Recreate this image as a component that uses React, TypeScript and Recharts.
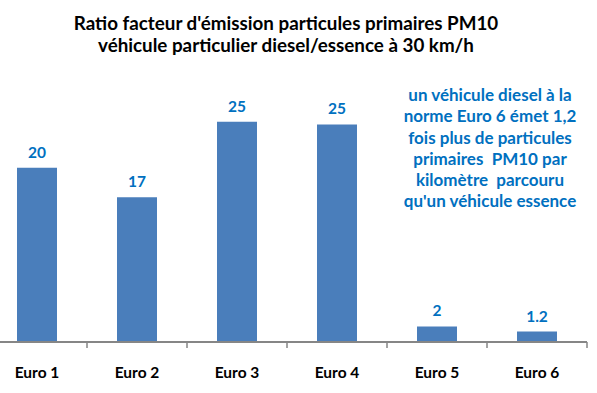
import { BarChart, Bar, XAxis, YAxis, LabelList } from "recharts";

const categories = ["Euro 1", "Euro 2", "Euro 3", "Euro 4", "Euro 5", "Euro 6"];
const ratios = [20.1, 16.7, 25.4, 25.1, 1.8, 1.2];
const valueLabels = ["20", "17", "25", "25", "2", "1.2"];

const titleLines = [
  "Ratio facteur d'émission particules primaires PM10",
  "véhicule particulier diesel/essence à 30 km/h",
];

const noteLines = [
  "un véhicule diesel à la",
  "norme Euro 6 émet 1,2",
  "fois plus de particules",
  "primaires  PM10 par",
  "kilomètre  parcouru",
  "qu'un véhicule essence",
];

const data = categories.map((name, i) => ({
  name,
  ratio: ratios[i],
  label: valueLabels[i],
}));

const FONT = "Lato, 'Open Sans', sans-serif";
const BAR_BLUE = "#4A7EBB";
const TEXT_BLUE = "#0070C0";
const AXIS_GREY = "#868686";

const EuroTick = ({ x, y, payload }: any) => {
  const half = payload?.offset || 50;
  return (
    <g>
      <line x1={x + half} y1={y} x2={x + half} y2={y + 6} stroke={AXIS_GREY} strokeWidth={1.5} />
      <text
        x={x}
        y={y + 36}
        textAnchor="middle"
        fontFamily={FONT}
        fontWeight={700}
        fontSize={15.5}
        fill="#000"
      >
        {payload.value}
      </text>
    </g>
  );
};

export default function App() {
  return (
    <div
      style={{
        position: "absolute",
        left: 0,
        top: 0,
        width: 597,
        height: 393,
        overflow: "hidden",
        background: "#fff",
        fontFamily: FONT,
      }}
    >
      <div
        style={{
          position: "absolute",
          left: 0,
          top: 12,
          width: 572,
          textAlign: "center",
          fontSize: 18.8,
          fontWeight: 700,
          lineHeight: "22px",
          color: "#000",
        }}
      >
        {titleLines.map((t) => (
          <div key={t}>{t}</div>
        ))}
      </div>

      <div style={{ position: "absolute", left: -13, top: 0 }}>
        <BarChart
          width={620}
          height={393}
          data={data}
          margin={{ top: 82, right: 20, bottom: 21, left: 0 }}
          barCategoryGap="30%"
        >
          <XAxis
            dataKey="name"
            height={30}
            axisLine={{ stroke: AXIS_GREY, strokeWidth: 2 }}
            tickLine={false}
            tickSize={0}
            tickMargin={0}
            interval={0}
            tick={<EuroTick />}
          />
          <YAxis hide domain={[0, 30]} />
          <Bar dataKey="ratio" fill={BAR_BLUE} isAnimationActive={false}>
            <LabelList
              dataKey="label"
              position="top"
              offset={10}
              fill={TEXT_BLUE}
              fontFamily={FONT}
              fontWeight={700}
              fontSize={15.5}
            />
          </Bar>
        </BarChart>
      </div>

      <div
        style={{
          position: "absolute",
          left: 390,
          top: 84,
          width: 200,
          textAlign: "center",
          fontSize: 17,
          fontWeight: 700,
          lineHeight: "21.3px",
          color: TEXT_BLUE,
          whiteSpace: "pre",
        }}
      >
        {noteLines.map((t) => (
          <div key={t}>{t}</div>
        ))}
      </div>
    </div>
  );
}
